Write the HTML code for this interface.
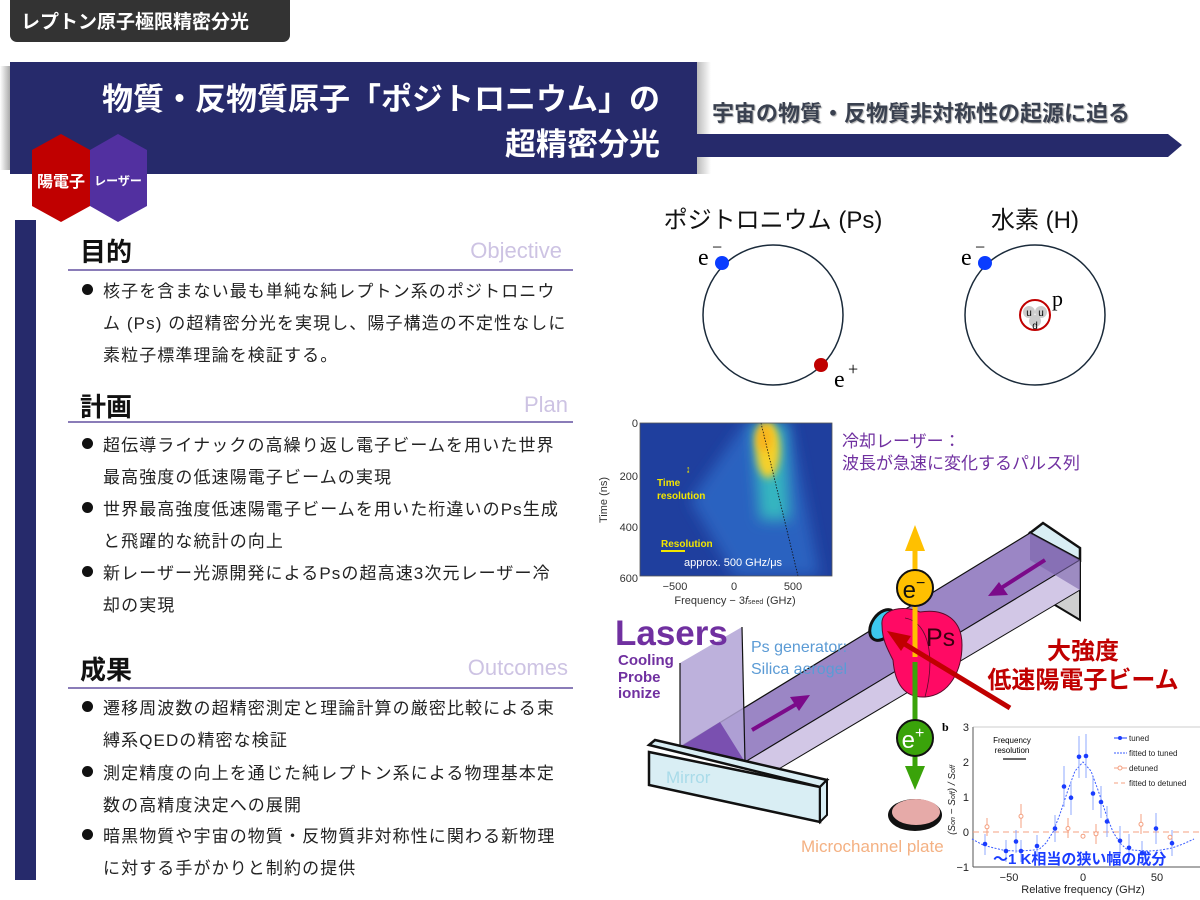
<!DOCTYPE html>
<html><head><meta charset="utf-8">
<style>
html,body{margin:0;padding:0;width:1200px;height:900px;overflow:hidden;background:#fff;}
body{position:relative;font-family:"Liberation Sans","Noto Sans CJK JP",sans-serif;}
.abs{position:absolute;white-space:nowrap;}
.h{font-size:26px;font-weight:bold;color:#111;left:80px;}
.en{font-size:22px;color:#cdc3e3;}
.ul{position:absolute;left:68px;width:505px;height:2px;background:#8a7cb8;}
.b{font-size:17px;letter-spacing:1.1px;color:#222;left:103px;}
.dot{position:absolute;left:82px;width:11px;height:11px;border-radius:50%;background:#111;}
</style></head><body>

<div class="abs" style="left:10px;top:0;width:280px;height:42px;background:#333;border-radius:0 0 7px 7px;"></div>
<div class="abs" style="left:21px;top:7px;font-size:19px;font-weight:bold;color:#fff;">レプトン原子極限精密分光</div>

<div class="abs" style="left:0;top:66px;width:12px;height:104px;background:linear-gradient(90deg,#fff,#999);"></div>
<div class="abs" style="left:10px;top:62px;width:687px;height:112px;background:#262a6b;"></div>
<div class="abs" style="right:540px;top:74px;font-size:31px;font-weight:bold;color:#fff;">物質・反物質原子「ポジトロニウム」の</div>
<div class="abs" style="right:540px;top:119px;font-size:31px;font-weight:bold;color:#fff;">超精密分光</div>

<div class="abs" style="left:697px;top:62px;width:14px;height:112px;background:linear-gradient(90deg,#bbb,#fff);"></div>
<div class="abs" style="left:712px;top:96px;font-size:22px;font-weight:bold;color:#3a4150;text-shadow:1px 1px 1px #aaa;">宇宙の物質・反物質非対称性の起源に迫る</div>

<div class="abs" style="left:15px;top:220px;width:21px;height:660px;background:#262a6b;"></div>

<div class="abs h" style="top:232px;">目的</div>
<div class="abs en" style="right:638px;top:238px;">Objective</div>
<div class="ul" style="top:269px;"></div>
<div class="dot" style="top:284px;"></div>
<div class="abs b" style="top:277px;">核子を含まない最も単純な純レプトン系のポジトロニウ</div>
<div class="abs b" style="top:309px;">ム (Ps) の超精密分光を実現し、陽子構造の不定性なしに</div>
<div class="abs b" style="top:341px;">素粒子標準理論を検証する。</div>

<div class="abs h" style="top:387px;">計画</div>
<div class="abs en" style="right:632px;top:392px;">Plan</div>
<div class="ul" style="top:421px;"></div>
<div class="dot" style="top:438px;"></div>
<div class="abs b" style="top:431px;">超伝導ライナックの高繰り返し電子ビームを用いた世界</div>
<div class="abs b" style="top:463px;">最高強度の低速陽電子ビームの実現</div>
<div class="dot" style="top:502px;"></div>
<div class="abs b" style="top:495px;">世界最高強度低速陽電子ビームを用いた桁違いのPs生成</div>
<div class="abs b" style="top:527px;">と飛躍的な統計の向上</div>
<div class="dot" style="top:566px;"></div>
<div class="abs b" style="top:559px;">新レーザー光源開発によるPsの超高速3次元レーザー冷</div>
<div class="abs b" style="top:591px;">却の実現</div>

<div class="abs h" style="top:650px;">成果</div>
<div class="abs en" style="right:632px;top:655px;">Outcomes</div>
<div class="ul" style="top:687px;"></div>
<div class="dot" style="top:701px;"></div>
<div class="abs b" style="top:694px;">遷移周波数の超精密測定と理論計算の厳密比較による束</div>
<div class="abs b" style="top:726px;">縛系QEDの精密な検証</div>
<div class="dot" style="top:766px;"></div>
<div class="abs b" style="top:759px;">測定精度の向上を通じた純レプトン系による物理基本定</div>
<div class="abs b" style="top:791px;">数の高精度決定への展開</div>
<div class="dot" style="top:829px;"></div>
<div class="abs b" style="top:822px;">暗黒物質や宇宙の物質・反物質非対称性に関わる新物理</div>
<div class="abs b" style="top:854px;">に対する手がかりと制約の提供</div>

<svg class="abs" style="left:0;top:0" width="1200" height="900" viewBox="0 0 1200 900" font-family="Liberation Sans, Noto Sans CJK JP, sans-serif">
<defs>
<filter id="bl" x="-50%" y="-50%" width="200%" height="200%"><feGaussianBlur stdDeviation="7"/></filter>
<filter id="bl2" x="-50%" y="-50%" width="200%" height="200%"><feGaussianBlur stdDeviation="4"/></filter>
<clipPath id="hm"><rect x="640" y="423" width="192" height="153"/></clipPath>
</defs>

<polygon points="697,134 1168,134 1182,145 1168,157 697,157" fill="#262a6b"/>

<polygon points="61,134 90,150 90,206 61,222 32,206 32,150" fill="#c00000"/>
<polygon points="118,134 147,150 147,206 118,222 90,206 90,150" fill="#5230a0"/>
<text x="61" y="187" font-size="16" font-weight="bold" fill="#fff" text-anchor="middle">陽電子</text>
<text x="118" y="185" font-size="12" font-weight="bold" fill="#fff" text-anchor="middle">レーザー</text>

<text x="773" y="228" font-size="24" fill="#111" text-anchor="middle">ポジトロニウム (Ps)</text>
<text x="1035" y="228" font-size="24" fill="#111" text-anchor="middle">水素 (H)</text>
<circle cx="773" cy="315" r="70" fill="none" stroke="#1a2a3a" stroke-width="1.5"/>
<circle cx="722" cy="263" r="7" fill="#0a3cff"/>
<circle cx="821" cy="365" r="7" fill="#c00000"/>
<text x="698" y="265" font-size="24" font-family="Liberation Serif, serif">e</text>
<text x="712" y="253" font-size="18" font-family="Liberation Serif, serif">−</text>
<text x="834" y="387" font-size="24" font-family="Liberation Serif, serif">e</text>
<text x="848" y="375" font-size="18" font-family="Liberation Serif, serif">+</text>
<circle cx="1035" cy="315" r="70" fill="none" stroke="#1a2a3a" stroke-width="1.5"/>
<circle cx="985" cy="263" r="7" fill="#0a3cff"/>
<text x="961" y="265" font-size="24" font-family="Liberation Serif, serif">e</text>
<text x="975" y="253" font-size="18" font-family="Liberation Serif, serif">−</text>
<circle cx="1035" cy="315" r="15" fill="#fff" stroke="#c00000" stroke-width="2"/>
<circle cx="1029" cy="312" r="6" fill="#ccc"/><circle cx="1041" cy="312" r="6" fill="#ccc"/><circle cx="1035" cy="321" r="6" fill="#ccc"/>
<text x="1029" y="316" font-size="10" text-anchor="middle">u</text>
<text x="1041" y="316" font-size="10" text-anchor="middle">u</text>
<text x="1035" y="329" font-size="10" text-anchor="middle">d</text>
<text x="1052" y="306" font-size="22" font-family="Liberation Serif, serif">p</text>

<rect x="640" y="423" width="192" height="153" fill="#1f3f9e"/>
<g clip-path="url(#hm)">
<polygon points="745,423 790,423 820,576 735,576 690,500" fill="#2a62c0" filter="url(#bl)"/>
<polygon points="752,423 785,423 790,520 760,520" fill="#36b6c0" filter="url(#bl)"/>
<ellipse cx="768" cy="450" rx="12" ry="28" fill="#f5d02a" filter="url(#bl2)"/>
<ellipse cx="764" cy="438" rx="8" ry="14" fill="#f7b41a" filter="url(#bl2)"/>
<line x1="761" y1="423" x2="798" y2="576" stroke="#111" stroke-width="0.8" stroke-dasharray="1.5,1.5"/>
</g>
<rect x="640" y="423" width="192" height="153" fill="none" stroke="#555" stroke-width="0.8"/>
<g font-size="11" fill="#333" text-anchor="end">
<text x="638" y="427">0</text><text x="638" y="480">200</text><text x="638" y="531">400</text><text x="638" y="582">600</text></g>
<g font-size="11" fill="#333" text-anchor="middle">
<text x="675" y="590">−500</text><text x="734" y="590">0</text><text x="793" y="590">500</text>
<text x="735" y="604">Frequency − 3<tspan font-style="italic">f</tspan><tspan font-size="7">seed</tspan> (GHz)</text></g>
<text font-size="11" fill="#333" transform="translate(607,500) rotate(-90)" text-anchor="middle">Time (ns)</text>
<g font-size="10" font-weight="bold" fill="#f2e600">
<text x="657" y="486">Time</text><text x="657" y="499">resolution</text>
<text x="661" y="547">Resolution</text></g>
<text x="686" y="472" font-size="9" fill="#f2e600">↨</text>
<line x1="661" y1="551" x2="685" y2="551" stroke="#f2e600" stroke-width="2"/>
<text x="684" y="566" font-size="11" fill="#fff">approx. 500 GHz/μs</text>

<text x="842" y="447" font-size="17" fill="#7030a0">冷却レーザー：</text>
<text x="842" y="469" font-size="17" fill="#7030a0">波長が急速に変化するパルス列</text>

<polygon points="1030,533 1043,523 1080,548 1080,560" fill="#d9eef4" stroke="#111" stroke-width="2.5"/>
<polygon points="1030,533 1080,560 1080,620 1030,590" fill="#cfcfcf" stroke="#111" stroke-width="2"/>
<polygon points="680,747 1030,533 1080,560 745,762" fill="#9b86c5" stroke="#111" stroke-width="1.2"/>
<polygon points="745,762 1080,560 1080,590 777,770" fill="#d2c7e6" stroke="#111" stroke-width="1"/>
<polygon points="1030,533 1080,560 1080,590 1030,560" fill="#7a62aa" opacity="0.6"/>
<polygon points="680,663 742,627 745,762 680,747" fill="#b2a3d6" opacity="0.85"/>
<polygon points="680,747 720,722 745,762" fill="#7a50b0"/>
<line x1="680" y1="663" x2="680" y2="747" stroke="#111" stroke-width="1.2"/>
<line x1="742" y1="627" x2="745" y2="762" stroke="#111" stroke-width="1.2"/>
<polygon points="649,745 655,740 827,780 820,787" fill="#d9eef4" stroke="#111" stroke-width="2.5"/>
<polygon points="649,752 820,787 820,822 649,785" fill="#d9eef4" stroke="#111" stroke-width="2.5"/>
<polygon points="820,787 827,780 827,815 820,822" fill="#d9eef4" stroke="#111" stroke-width="2"/>
<line x1="752" y1="730" x2="800" y2="702" stroke="#7b0a8a" stroke-width="4"/>
<polygon points="810,695 790,697 799,711" fill="#7b0a8a"/>
<line x1="1045" y1="560" x2="998" y2="590" stroke="#7b0a8a" stroke-width="4"/>
<polygon points="988,596 1008,595 999,582" fill="#7b0a8a"/>

<ellipse cx="883" cy="625" rx="11" ry="17" transform="rotate(35 883 625)" fill="#3cc8ef" stroke="#111" stroke-width="3"/>
<path d="M882,625 C880,608 905,605 920,612 C945,608 962,620 962,645 C962,670 950,695 925,697 C905,698 895,685 893,660 C888,650 882,640 882,625 Z" fill="#ff0a64" stroke="#5a0a2a" stroke-width="1"/>
<path d="M905,618 C930,622 935,660 925,697" fill="none" stroke="#5a0a2a" stroke-width="0.8"/>
<text x="926" y="646" font-size="25" fill="#3a0010">Ps</text>
<line x1="915" y1="657" x2="915" y2="548" stroke="#ffc000" stroke-width="5"/>
<polygon points="915,525 905,551 925,551" fill="#ffc000"/>
<circle cx="915" cy="588" r="18" fill="#ffc000" stroke="#111" stroke-width="2"/>
<text x="914" y="598" font-size="24" text-anchor="middle" fill="#111">e<tspan font-size="16" dy="-10">−</tspan></text>
<line x1="915" y1="662" x2="915" y2="770" stroke="#3aa30a" stroke-width="5"/>
<polygon points="915,790 905,766 925,766" fill="#3aa30a"/>
<circle cx="915" cy="738" r="18" fill="#3aa30a" stroke="#111" stroke-width="2"/>
<text x="913" y="748" font-size="24" text-anchor="middle" fill="#fff">e<tspan font-size="16" dy="-10">+</tspan></text>
<line x1="1010" y1="708" x2="898" y2="640" stroke="#c00000" stroke-width="5"/>
<polygon points="887,631 911,636 901,651" fill="#c00000"/>
<ellipse cx="915" cy="815" rx="27" ry="16" fill="#111"/>
<ellipse cx="916" cy="812" rx="24" ry="13" fill="#e6aaa8"/>
<text x="942" y="731" font-size="12" font-weight="bold" font-family="Liberation Serif, serif">b</text>

<text x="615" y="645" font-size="35" font-weight="bold" fill="#7030a0">Lasers</text>
<g font-size="15" font-weight="bold" fill="#7030a0"><text x="618" y="665">Cooling</text><text x="618" y="682">Probe</text><text x="618" y="698">ionize</text></g>
<text x="751" y="652" font-size="16" fill="#5b9bd5">Ps generator:</text>
<text x="751" y="674" font-size="16" fill="#5b9bd5">Silica aerogel</text>
<text x="666" y="783" font-size="17" fill="#a9dbe9">Mirror</text>
<text x="801" y="852" font-size="17" fill="#f4b183">Microchannel plate</text>
<text x="1083" y="659" font-size="24" font-weight="bold" fill="#c00000" text-anchor="middle">大強度</text>
<text x="1083" y="688" font-size="24" font-weight="bold" fill="#c00000" text-anchor="middle">低速陽電子ビーム</text>

<rect x="973" y="727" width="227" height="140" fill="#fff"/>
<line x1="973" y1="727" x2="973" y2="867" stroke="#555"/>
<line x1="973" y1="867" x2="1200" y2="867" stroke="#555"/>
<line x1="973" y1="727" x2="1200" y2="727" stroke="#999" stroke-width="0.6"/>
<g font-size="11" fill="#222" text-anchor="end">
<text x="969" y="731">3</text><text x="969" y="766">2</text><text x="969" y="801">1</text><text x="969" y="836">0</text><text x="969" y="871">−1</text></g>
<g font-size="11" fill="#222" text-anchor="middle">
<text x="1009" y="881">−50</text><text x="1083" y="881">0</text><text x="1157" y="881">50</text>
<text x="1083" y="893">Relative frequency (GHz)</text></g>
<text font-size="10" font-style="italic" fill="#222" transform="translate(955,800) rotate(-90)" text-anchor="middle">(S<tspan font-size="7">on</tspan> − S<tspan font-size="7">off</tspan>) / S<tspan font-size="7">off</tspan></text>
<text x="1012" y="743" font-size="8" text-anchor="middle">Frequency</text>
<text x="1012" y="753" font-size="8" text-anchor="middle">resolution</text>
<line x1="1003" y1="759" x2="1026" y2="759" stroke="#111" stroke-width="1.2"/>
<line x1="973" y1="832" x2="1200" y2="832" stroke="#f4a080" stroke-width="1" stroke-dasharray="6,4"/>
<polyline points="972,839 983,845 994,848 1005,850.5 1016,851 1028,850.5 1039,849.5 1046,843 1053,832 1060,814 1068,790 1075,771 1083,762 1091,771 1098,790 1106,814 1113,832 1120,843 1127,849.5 1138,850.5 1150,851 1161,850 1172,848 1183,844 1194,839" fill="none" stroke="#3a5cff" stroke-width="1" stroke-dasharray="2,1.5"/>
<g stroke="#8fa8ff" stroke-width="1">
<line x1="985" y1="834" x2="985" y2="855"/><line x1="1006" y1="840" x2="1006" y2="862"/><line x1="1016" y1="830" x2="1016" y2="853"/><line x1="1021" y1="840" x2="1021" y2="862"/><line x1="1037" y1="835" x2="1037" y2="857"/><line x1="1055" y1="815" x2="1055" y2="842"/><line x1="1064" y1="766" x2="1064" y2="807"/><line x1="1071" y1="781" x2="1071" y2="815"/><line x1="1079" y1="736" x2="1079" y2="778"/><line x1="1086" y1="734" x2="1086" y2="778"/><line x1="1093" y1="777" x2="1093" y2="810"/><line x1="1101" y1="786" x2="1101" y2="818"/><line x1="1107" y1="806" x2="1107" y2="837"/><line x1="1120" y1="826" x2="1120" y2="856"/><line x1="1129" y1="834" x2="1129" y2="862"/><line x1="1142" y1="841" x2="1142" y2="865"/><line x1="1156" y1="813" x2="1156" y2="844"/><line x1="1172" y1="830" x2="1172" y2="856"/>
</g>
<g fill="#1a3cff">
<circle cx="985" cy="844" r="2.3"/><circle cx="1006" cy="851" r="2.3"/><circle cx="1016" cy="841.5" r="2.3"/><circle cx="1021" cy="851" r="2.3"/><circle cx="1037" cy="846" r="2.3"/><circle cx="1055" cy="828.5" r="2.3"/><circle cx="1064" cy="786.5" r="2.3"/><circle cx="1071" cy="797.7" r="2.3"/><circle cx="1079" cy="756.8" r="2.3"/><circle cx="1086" cy="756" r="2.3"/><circle cx="1093" cy="793.5" r="2.3"/><circle cx="1101" cy="802" r="2.3"/><circle cx="1107" cy="821.5" r="2.3"/><circle cx="1120" cy="840.8" r="2.3"/><circle cx="1129" cy="847.8" r="2.3"/><circle cx="1142" cy="853" r="2.3"/><circle cx="1156" cy="828.5" r="2.3"/><circle cx="1172" cy="843.2" r="2.3"/>
</g>
<g stroke="#f4a080" fill="#fff" stroke-width="1">
<line x1="987" y1="818" x2="987" y2="836"/><line x1="1021" y1="804" x2="1021" y2="828"/><line x1="1068" y1="818" x2="1068" y2="838"/><line x1="1096" y1="824" x2="1096" y2="844"/><line x1="1141" y1="814" x2="1141" y2="834"/>
<circle cx="987" cy="826.8" r="2"/><circle cx="1021" cy="816.3" r="2"/><circle cx="1068" cy="828.5" r="2"/><circle cx="1083" cy="836.2" r="2"/><circle cx="1096" cy="833.8" r="2"/><circle cx="1141" cy="824.3" r="2"/><circle cx="1170" cy="837.3" r="2"/>
</g>
<g font-size="8" fill="#222">
<line x1="1114" y1="738" x2="1127" y2="738" stroke="#1a3cff"/><circle cx="1120" cy="738" r="2" fill="#1a3cff"/><text x="1129" y="741">tuned</text>
<line x1="1114" y1="753" x2="1127" y2="753" stroke="#3a5cff" stroke-dasharray="2,1"/><text x="1129" y="756">fitted to tuned</text>
<line x1="1114" y1="768" x2="1127" y2="768" stroke="#f4a080"/><circle cx="1120" cy="768" r="2" fill="#fff" stroke="#f4a080"/><text x="1129" y="771">detuned</text>
<line x1="1114" y1="783" x2="1127" y2="783" stroke="#f4a080" stroke-dasharray="4,3"/><text x="1129" y="786">fitted to detuned</text>
</g>
<text x="993" y="864" font-size="15" font-weight="bold" fill="#1a3cff">〜1 K相当の狭い幅の成分</text>
</svg>
</body></html>
